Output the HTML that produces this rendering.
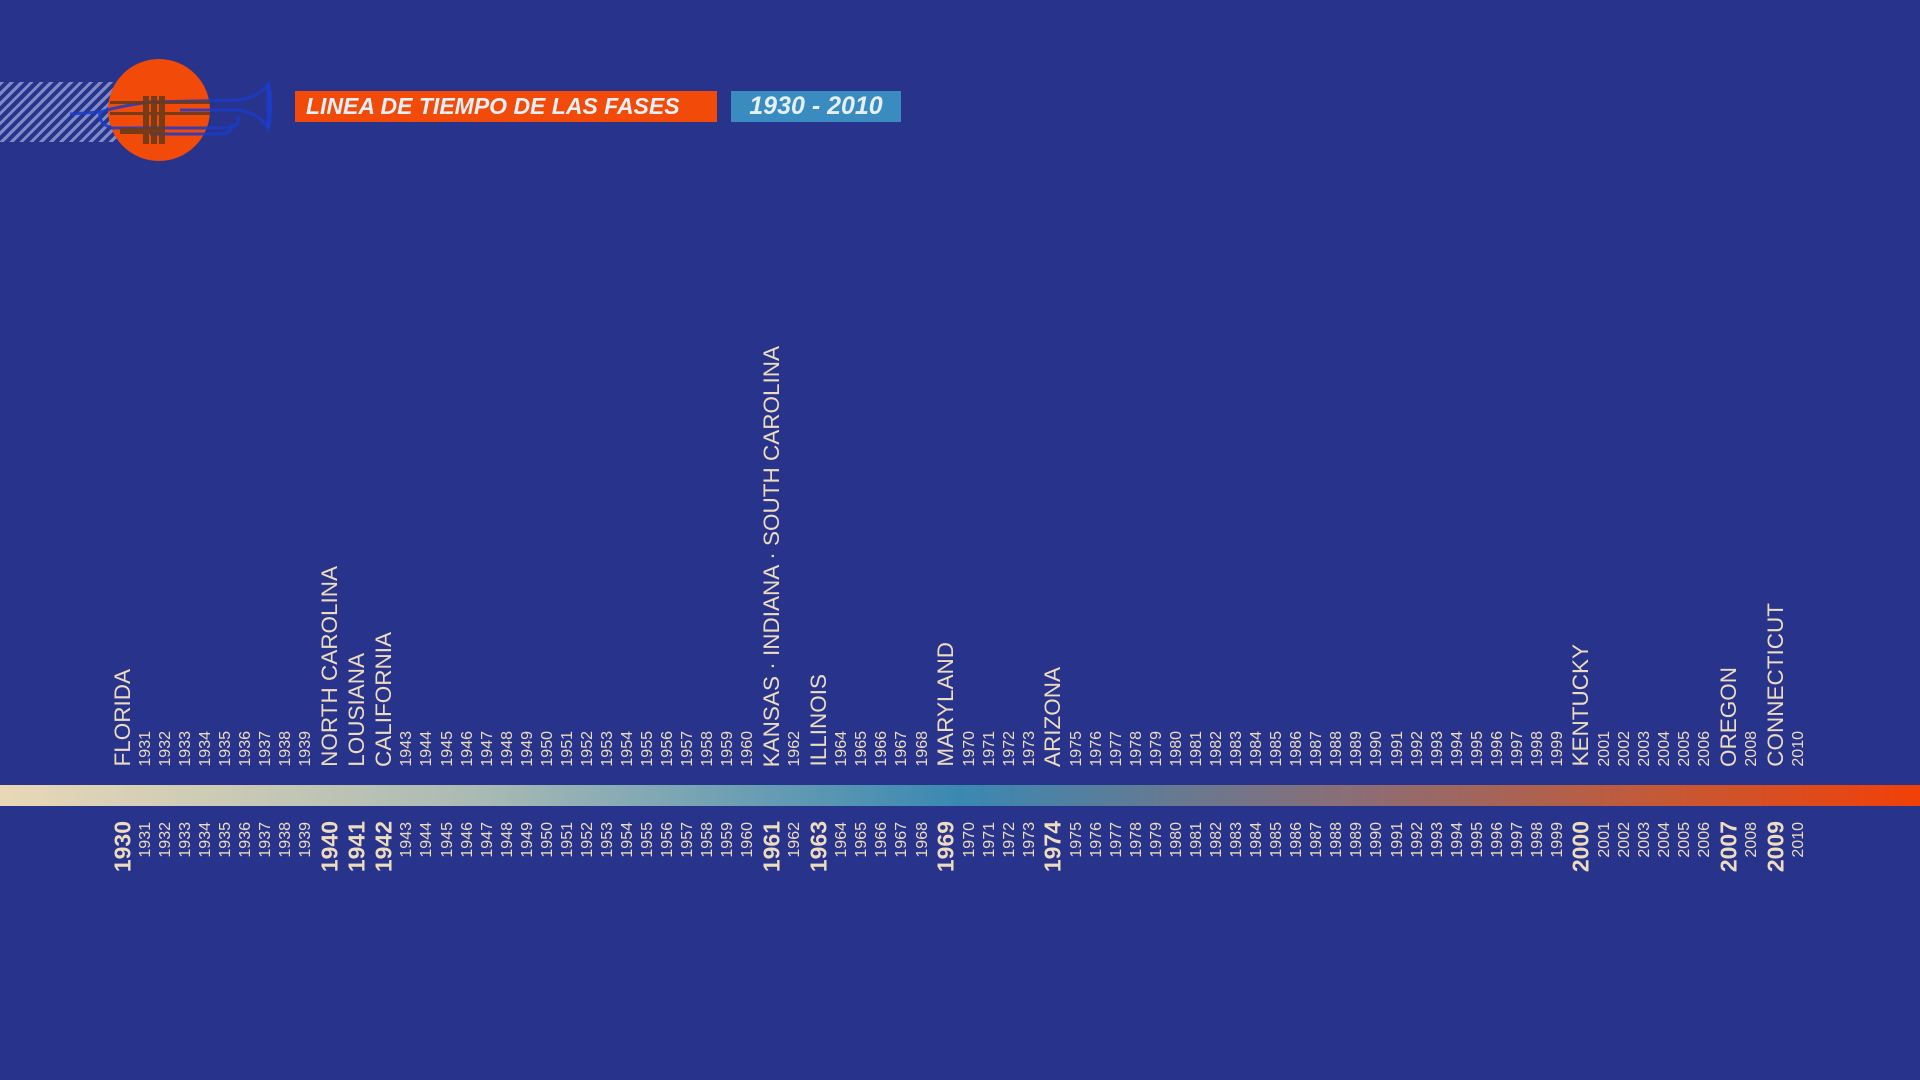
<!DOCTYPE html>
<html><head><meta charset="utf-8">
<style>
html,body{margin:0;padding:0}
body{width:1920px;height:1080px;background:#28348c;position:relative;overflow:hidden;font-family:"Liberation Sans",sans-serif;color:#eedcbf}
.hatch{position:absolute;left:0;top:82px;width:117px;height:60px;background:repeating-linear-gradient(135deg,#7f8cc8 0 3px,#28348c 3px 7px)}
.circle{position:absolute;left:108px;top:59px;width:102px;height:102px;border-radius:50%;background:#f24a08}
.box1{position:absolute;left:295px;top:91px;width:422px;height:31px;background:#f24a08;color:#e4f0f6;font-weight:bold;font-style:italic;font-size:23px;line-height:31px;text-indent:11px;white-space:nowrap}
.box2{position:absolute;left:731px;top:91px;width:170px;height:31px;background:#3a8cc0;color:#e4f0f6;font-weight:bold;font-style:italic;font-size:25px;line-height:31px;text-align:center}
.bar{position:absolute;left:0;top:785px;width:1920px;height:21px;background:linear-gradient(90deg,#e9d8b6 0%,#a9bab4 25%,#3a88b2 50%,#8a6e78 70%,#c25a38 86%,#f24008 100%)}
#cols{position:absolute;left:109px;top:0;display:flex;height:1080px}
.c{position:relative;height:1080px;width:20.05px}
.c.B{width:27px}
.t,.b{position:absolute;left:50%;writing-mode:vertical-rl;transform:translateX(-50%) rotate(180deg);line-height:1;white-space:nowrap;font-size:16px}
.t{bottom:313px}
.b{top:822px}
.B .t{font-size:22.5px}
.B .b{font-size:23px;font-weight:bold;top:821px}
</style></head><body>
<div class="hatch"></div>
<div class="circle"></div>
<svg style="position:absolute;left:0;top:0" width="300" height="180">
 <g fill="none" stroke="#1a3cc8" stroke-width="3" opacity="0.85">
  <path d="M70 114 L100 112 Q120 106 150 102 L240 100 Q260 96 268 84 L268 128 Q260 114 240 110 L180 110"/>
  <path d="M100 112 Q98 124 112 128 L230 128 Q240 126 238 116"/>
  <path d="M150 134 L220 134 Q232 134 232 124"/>
 </g>
 <path d="M268 84 Q272 106 268 128" stroke="#1a3cc8" stroke-width="4" fill="none"/>
 <g fill="#6a3a1a" opacity="0.9">
  <rect x="110" y="101" width="100" height="3"/>
  <rect x="110" y="112" width="100" height="3"/>
  <rect x="120" y="128" width="45" height="6"/>
  <rect x="143" y="96" width="6" height="48"/>
  <rect x="151" y="96" width="6" height="48"/>
  <rect x="159" y="96" width="6" height="48"/>
 </g>
</svg>
<div class="box1">LINEA DE TIEMPO DE LAS FASES</div>
<div class="box2">1930 - 2010</div>
<div class="bar"></div>
<div id="cols"></div>
<script>
var big={1930:"FLORIDA",1940:"NORTH CAROLINA",1941:"LOUSIANA",1942:"CALIFORNIA",1961:"KANSAS · INDIANA · SOUTH CAROLINA",1963:"ILLINOIS",1969:"MARYLAND",1974:"ARIZONA",2000:"KENTUCKY",2007:"OREGON",2009:"CONNECTICUT"};
var h="";
for(var y=1930;y<=2010;y++){
 if(big[y]) h+='<div class="c B"><div class="t">'+big[y]+'</div><div class="b">'+y+'</div></div>';
 else h+='<div class="c"><div class="t">'+y+'</div><div class="b">'+y+'</div></div>';
}
document.getElementById("cols").innerHTML=h;
</script>
</body></html>
